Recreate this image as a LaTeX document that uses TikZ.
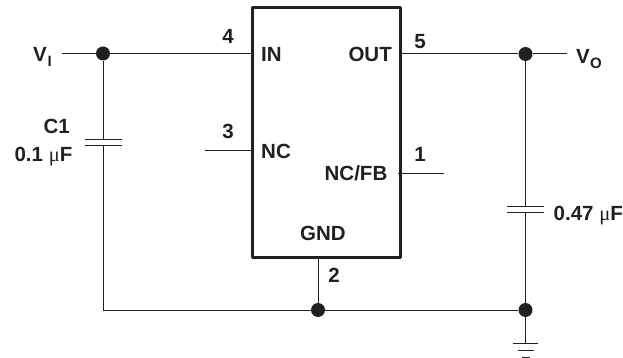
\documentclass[tikz,border=0pt]{standalone}
\usepackage{fontspec}
\setmainfont{Liberation Sans}
\newfontfamily\muf{Liberation Serif}
\newcommand{\micro}{{\mdseries\muf μ}}
\definecolor{ink}{RGB}{35,31,32}
\tikzset{
  wire/.style={draw=ink,line width=1pt},
  plate/.style={draw=ink,line width=1pt},
  dot/.style={circle,fill=ink,inner sep=0pt,minimum size=14pt},
  lbl/.style={font=\bfseries\fontsize{20.5}{22}\selectfont,text=ink,inner sep=0pt},
  sub/.style={font=\bfseries\fontsize{15}{16}\selectfont,text=ink,inner sep=0pt},
  chip/.style={draw=ink,line width=3pt,line join=round}
}
\begin{document}
\begin{tikzpicture}[x=1pt,y=-1pt]
\useasboundingbox (0,0) rectangle (623,358);
\clip (0,0) rectangle (623,358);
% terminals and ports
\coordinate (viend) at (62,53.5);
\coordinate (in) at (251,53.5);
\coordinate (out) at (401,54);
\coordinate (voend) at (567,54);
\coordinate (nc) at (251,151);
\coordinate (ncend) at (205,151);
\coordinate (fb) at (398,174);
\coordinate (fbend) at (444,174);
\coordinate (gnd) at (318,257);
\coordinate (c1t) at (103,139.5);
\coordinate (c1b) at (103,145.5);
\coordinate (c2t) at (525.5,206);
\coordinate (c2b) at (525.5,212);
\coordinate (g1) at (525.5,343);
\coordinate (corner) at (103,310);
\node[dot] (d1) at (103,53.5) {};
\node[dot] (d2) at (525.5,54) {};
\node[dot] (d3) at (318,310) {};
\node[dot] (d4) at (525.5,310) {};
% wires
\draw[wire] (viend) -- (d1) -- (in);
\draw[wire] (out) -- (d2) -- (voend);
\draw[wire] (ncend) -- (nc);
\draw[wire] (fb) -- (fbend);
\draw[wire] (gnd) -- (d3);
\draw[wire] (d1) -- (c1t);
\draw[wire] (c1b) -- (corner) -- (d3) -- (d4);
\draw[wire] (d2) -- (c2t);
\draw[wire] (c2b) -- (d4) -- (g1);
% capacitors
\draw[plate] (84.5,139.5) -- (121.5,139.5);
\draw[plate] (84.5,145.5) -- (121.5,145.5);
\draw[plate] (507,206) -- (544,206);
\draw[plate] (507,212) -- (544,212);
% ground
\draw[plate] (513,343) -- (538,343);
\draw[plate] (518,350.5) -- (534,350.5);
\draw[plate] (522,357.5) -- (530,357.5);
% chip
\draw[chip] (252,8) rectangle (400,257);
% labels
\node[lbl,anchor=base west] (l1) at (33,62) {V};
\node[sub,anchor=base west] (l1s) at (47.5,67) {I};
\node[lbl,anchor=base west] (l2) at (576,64) {V};
\node[sub,anchor=base west] (l2s) at (590,69) {O};
\node[lbl,anchor=base] (p4) at (228,44) {4};
\node[lbl,anchor=base] (p3) at (228,139) {3};
\node[lbl,anchor=base] (p5) at (420,49) {5};
\node[lbl,anchor=base] (p1) at (420,162) {1};
\node[lbl,anchor=base] (p2) at (334,282) {2};
\node[lbl,anchor=base west] (tin) at (261,62) {IN};
\node[lbl,anchor=base west] (tnc) at (261,159) {NC};
\node[lbl,anchor=base east] (tout) at (392,62) {OUT};
\node[lbl,anchor=base east] (tfb) at (387.5,181) {NC/FB};
\node[lbl,anchor=base] (tgnd) at (323,240.5) {GND};
\node[lbl,anchor=base east] (tc1) at (70,134) {C1};
\node[lbl,anchor=base east] (tc1v) at (72.5,161) {0.1 \micro F};
\node[lbl,anchor=base west] (tc2) at (553.5,220) {0.47 \micro F};
\end{tikzpicture}
\end{document}
